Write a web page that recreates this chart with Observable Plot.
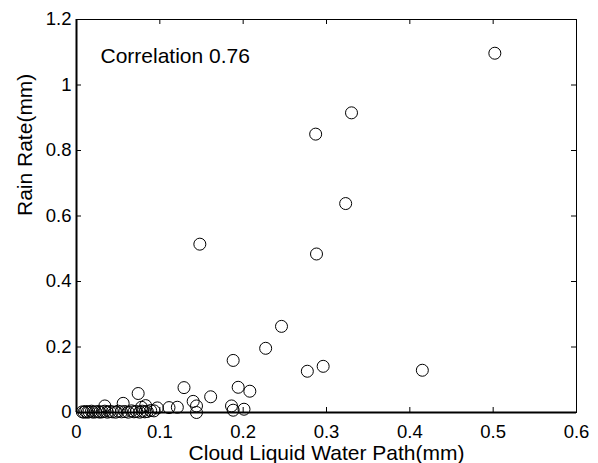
<!DOCTYPE html>
<html><head><meta charset="utf-8">
<script src="https://cdn.jsdelivr.net/npm/d3@7"></script>
<script src="https://cdn.jsdelivr.net/npm/@observablehq/plot@0.6"></script>
<style>body{margin:0;background:#fff} svg{display:block}</style>
</head><body><div id="chart"></div>
<script>
// Cloud liquid water path (mm) and rain rate (mm)
const cloudLWP = [
  0.502, 0.330, 0.287, 0.323, 0.148, 0.288, 0.246, 0.227, 0.188, 0.296,
  0.277, 0.415, 0.129, 0.194, 0.208, 0.161, 0.140, 0.144, 0.144, 0.186,
  0.188, 0.201, 0.121, 0.111, 0.074, 0.056, 0.034, 0.078, 0.083, 0.097,
  0.089, 0.093,
  0.007, 0.009, 0.011, 0.013, 0.015, 0.018, 0.020, 0.023, 0.026, 0.028,
  0.031, 0.034, 0.037, 0.040, 0.043, 0.047, 0.050, 0.054, 0.058, 0.062,
  0.066, 0.069, 0.072, 0.076, 0.079, 0.082, 0.085
];
const rainRate = [
  1.097, 0.915, 0.850, 0.638, 0.514, 0.484, 0.263, 0.196, 0.159, 0.141,
  0.126, 0.129, 0.076, 0.077, 0.065, 0.048, 0.034, 0.020, 0.000, 0.020,
  0.007, 0.010, 0.016, 0.015, 0.058, 0.028, 0.020, 0.016, 0.021, 0.014,
  0.006, 0.005,
  0.002, 0.001, 0.003, 0.001, 0.002, 0.004, 0.001, 0.002, 0.003, 0.001,
  0.002, 0.004, 0.001, 0.003, 0.002, 0.001, 0.004, 0.002, 0.003, 0.001,
  0.005, 0.002, 0.003, 0.001, 0.004, 0.002, 0.003
];
const xTicks = [0, 0.1, 0.2, 0.3, 0.4, 0.5, 0.6];
const yTicks = [0, 0.2, 0.4, 0.6, 0.8, 1, 1.2];
const xLabel = "Cloud Liquid Water Path(mm)";
const yLabel = "Rain Rate(mm)";
const note = "Correlation 0.76";

const W = 598, H = 463, mL = 76, mR = 22, mT = 19, mB = 51;
const innerH = H - mT - mB, innerW = W - mL - mR, tick = 5;
const data = cloudLWP.map((x, i) => ({x, y: rainRate[i]}));
const fmt = d => String(d);

const chart = Plot.plot({
  width: W, height: H,
  marginLeft: mL, marginRight: mR, marginTop: mT, marginBottom: mB,
  style: {fontFamily: "'Liberation Sans', Arial, Helvetica, sans-serif", fontSize: "18px", color: "#000", background: "#fff", overflow: "visible"},
  x: {domain: [0, 0.6]},
  y: {domain: [0, 1.2]},
  marks: [
    Plot.axisX(xTicks, {tickSize: 0, tickPadding: 12, tickFormat: fmt, label: null, fontSize: 18.5}),
    Plot.axisY(yTicks, {tickSize: 0, tickPadding: 5, tickFormat: fmt, label: null, fontSize: 18.5}),
    Plot.tickX(xTicks, {x: d => d, insetTop: innerH - tick, stroke: "#000"}),
    Plot.tickX(xTicks, {x: d => d, insetBottom: innerH - tick, stroke: "#000"}),
    Plot.tickY(yTicks, {y: d => d, insetRight: innerW - tick, stroke: "#000"}),
    Plot.tickY(yTicks, {y: d => d, insetLeft: innerW - tick, stroke: "#000"}),
    Plot.frame({stroke: "#000", strokeWidth: 1}),
    Plot.ruleX([0], {stroke: "#000", strokeWidth: 2}),
    Plot.ruleY([0], {stroke: "#000", strokeWidth: 2}),
    Plot.dot(data, {x: "x", y: "y", r: 6, stroke: "#000", strokeWidth: 1, fill: "none"}),
    Plot.text([note], {frameAnchor: "top-left", dx: 24, dy: 37, fontSize: 21, textAnchor: "start", lineAnchor: "middle", fill: "#000"}),
    Plot.text([xLabel], {frameAnchor: "bottom", dy: 41, fontSize: 21, lineAnchor: "middle", fill: "#000"}),
    Plot.text([yLabel], {frameAnchor: "left", dx: -51, rotate: -90, fontSize: 21, lineAnchor: "middle", fill: "#000"})
  ]
});
document.getElementById("chart").append(chart);
</script>
</body></html>
